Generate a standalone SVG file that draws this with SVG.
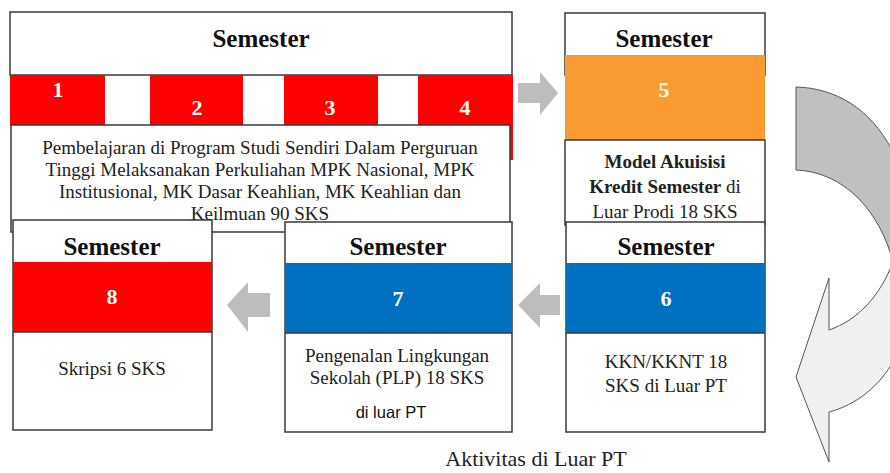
<svg xmlns="http://www.w3.org/2000/svg" width="890" height="473" viewBox="0 0 890 473">
<style>
.box{fill:#fff;stroke:#3a3a3a;stroke-width:1.5}
.red{fill:#ff0000}
.orange{fill:#f99b32}
.blue{fill:#0070c0}
.hdr{font-family:"Liberation Serif","Times New Roman",serif;font-weight:bold;font-size:25px;fill:#111;text-anchor:middle}
.num{font-family:"Liberation Serif","Times New Roman",serif;font-weight:bold;font-size:22px;fill:#fff;text-anchor:middle}
.body{font-family:"Liberation Serif","Times New Roman",serif;font-size:19px;fill:#222;text-anchor:middle}
.sans{font-family:"Liberation Sans",Arial,sans-serif;font-size:16.5px;fill:#111;text-anchor:middle}
.garrow{fill:#bdbdbd;stroke:none}
.cdark{fill:#c0c0c0;stroke:#555;stroke-width:1}
.clight{fill:#f0f0f0;stroke:#555;stroke-width:1}
</style>

<!-- Semester 1-4 -->
<g id="sem1-4">
  <rect class="box" x="10" y="12" width="502" height="63"/>
  <text class="hdr" x="261" y="47">Semester</text>
  <rect class="red" x="10" y="75" width="95" height="50"/>
  <rect class="red" x="150" y="75" width="93" height="50"/>
  <rect class="red" x="284" y="75" width="94" height="50"/>
  <rect class="red" x="418" y="75" width="95" height="85"/>
  <text class="num" x="58" y="97">1</text>
  <text class="num" x="197" y="115">2</text>
  <text class="num" x="330" y="115">3</text>
  <text class="num" x="465" y="115">4</text>
  <rect class="box" x="11" y="125" width="499" height="107"/>
  <text class="body" x="260" y="154">Pembelajaran di Program Studi Sendiri Dalam Perguruan</text>
  <text class="body" x="260" y="176">Tinggi Melaksanakan Perkuliahan MPK Nasional, MPK</text>
  <text class="body" x="260" y="198">Institusional, MK Dasar Keahlian, MK Keahlian dan</text>
  <text class="body" x="260" y="220">Keilmuan 90 SKS</text>
</g>

<!-- Semester 5 -->
<g id="sem5">
  <rect class="box" x="565" y="13" width="200" height="62"/>
  <text class="hdr" x="664" y="47">Semester</text>
  <rect class="orange" x="565" y="55" width="200" height="85"/>
  <text class="num" x="664" y="97">5</text>
  <rect class="box" x="565" y="140" width="200" height="85"/>
  <text class="body" x="665" y="168" font-weight="bold">Model Akuisisi</text>
  <text class="body" x="665" y="193"><tspan font-weight="bold">Kredit Semester</tspan> di</text>
  <text class="body" x="665" y="218">Luar Prodi 18 SKS</text>
</g>

<!-- Semester 8 -->
<g id="sem8">
  <rect class="box" x="13" y="220" width="199" height="210"/>
  <text class="hdr" x="112" y="255">Semester</text>
  <rect class="red" x="13" y="262" width="199" height="70"/>
  <line x1="13" y1="332" x2="212" y2="332" stroke="#3a3a3a" stroke-width="1.5"/>
  <text class="num" x="112" y="304">8</text>
  <text class="body" x="112" y="375">Skripsi 6 SKS</text>
</g>

<!-- Semester 7 -->
<g id="sem7">
  <rect class="box" x="285" y="222" width="227" height="210"/>
  <text class="hdr" x="398" y="255">Semester</text>
  <rect class="blue" x="285" y="263" width="227" height="70"/>
  <line x1="285" y1="333" x2="512" y2="333" stroke="#3a3a3a" stroke-width="1.5"/>
  <text class="num" x="398" y="306">7</text>
  <text class="body" x="397" y="362">Pengenalan Lingkungan</text>
  <text class="body" x="397" y="384">Sekolah (PLP) 18 SKS</text>
  <text class="sans" x="391" y="418">di luar PT</text>
</g>

<!-- Semester 6 -->
<g id="sem6">
  <rect class="box" x="566" y="222" width="199" height="210"/>
  <text class="hdr" x="666" y="255">Semester</text>
  <rect class="blue" x="566" y="263" width="199" height="70"/>
  <line x1="566" y1="333" x2="765" y2="333" stroke="#3a3a3a" stroke-width="1.5"/>
  <text class="num" x="666" y="306">6</text>
  <text class="body" x="666" y="368">KKN/KKNT 18</text>
  <text class="body" x="666" y="392">SKS di Luar PT</text>
</g>

<!-- connectors -->
<g id="connectors">
  <polygon class="garrow" points="518,83 540,83 540,72 558,93 540,115 540,103 518,103"/>
  <polygon class="garrow" points="270,293 248,293 248,282 227,305 248,332 248,317 270,317"/>
  <polygon class="garrow" points="560,295 540,295 540,283 518,305 540,328 540,315 560,315"/>
  <path class="cdark" d="M796,87 C835,88 870,108 892,150 L910,150 L910,275 L893,262 C880,212 845,172 796,170 Z"/>
  <path class="clight" d="M829,330 L829,278 L796,377 L829,462 L829,412 C856,405 880,386 894,360 L910,360 L910,258 L893,262 C880,296 858,320 829,330 Z"/>
</g>

<text id="caption" x="536" y="466" font-family="Liberation Serif, Times New Roman, serif" font-size="22" fill="#222" text-anchor="middle">Aktivitas di Luar PT</text>
</svg>
